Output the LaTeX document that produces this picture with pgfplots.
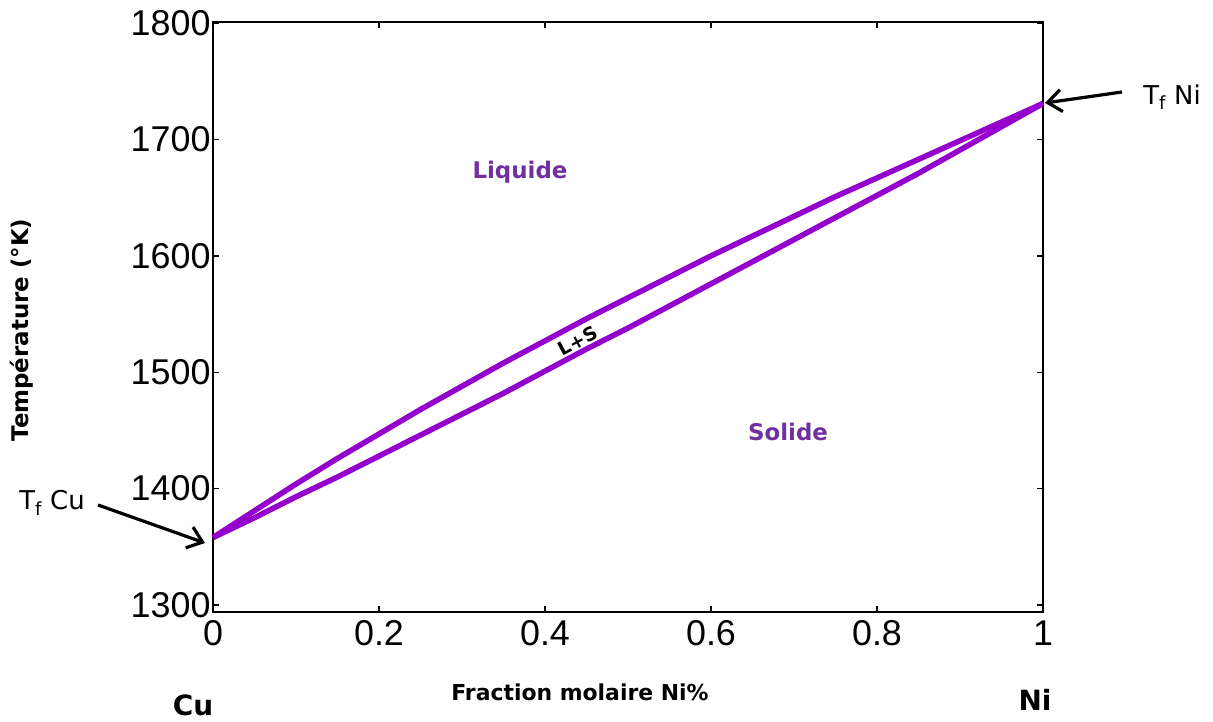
\documentclass[border=0pt]{standalone}
\usepackage{fontspec}
\setmainfont{Liberation Sans}
\newfontfamily\lab{DejaVu Sans}
\usepackage{pgfplots}
\pgfplotsset{compat=1.18}
\usetikzlibrary{arrows.meta}
\definecolor{curve}{RGB}{148,0,204}
\definecolor{phase}{RGB}{112,48,160}

% liquidus (upper curve) and solidus (lower curve), x = mole fraction of Ni
\pgfplotstableread{
x T
0.00 1358
0.05 1381
0.10 1404
0.15 1426
0.20 1447
0.25 1468
0.30 1488
0.35 1508
0.40 1527
0.45 1546
0.50 1564
0.55 1582
0.60 1600
0.65 1617
0.70 1634
0.75 1651
0.80 1667
0.85 1683
0.90 1699
0.95 1715
1.00 1731
}\liquidus
\pgfplotstableread{
x T
0.00 1358
0.05 1375
0.10 1393
0.15 1410
0.20 1428
0.25 1446
0.30 1464
0.35 1482
0.40 1501
0.45 1520
0.50 1538
0.55 1557
0.60 1576
0.65 1595
0.70 1614
0.75 1633
0.80 1652
0.85 1671
0.90 1691
0.95 1711
1.00 1731
}\solidus

\begin{document}
\begin{tikzpicture}[x=1bp,y=1bp]
\useasboundingbox (-213,-110) rectangle (1000,612);
\begin{axis}[
  at={(0,0)}, anchor=south west,
  scale only axis, width=830bp, height=590bp,
  xmin=0, xmax=1, ymin=1294, ymax=1801,
  xtick={0,0.2,0.4,0.6,0.8,1},
  ytick={1300,1400,1500,1600,1700,1800},
  xticklabels={0,0.2,0.4,0.6,0.8,1},
  /pgf/number format/1000 sep={},
  tick align=inside,
  major tick length=6bp,
  axis line style={line width=1.4bp},
  every tick/.style={black, line width=1.4bp},
  /pgf/number format/assume math mode=true,
  ticklabel style={font=\fontsize{36}{38}\selectfont},
  yticklabel style={xshift=1bp},
  xticklabel style={yshift=-5bp},
  clip=false,
]
\addplot[curve, line width=5.5bp, line join=round] table[x=x,y=T] {\liquidus};
\addplot[curve, line width=5.5bp, line join=round] table[x=x,y=T] {\solidus};
\end{axis}

% phase labels
\node[text=phase, font=\lab\bfseries\fontsize{23}{26}\selectfont] at (307,440) {Liquide};
\node[text=phase, font=\lab\bfseries\fontsize{23}{26}\selectfont] at (575,180) {Solide};
\node[rotate=28, inner sep=0pt, font=\lab\bfseries\fontsize{19}{21}\selectfont] at (365,271) {L+S};

% axis titles and end members
\node[rotate=90, font=\lab\bfseries\fontsize{23}{25}\selectfont] at (-191,282) {Température (°K)};
\node[font=\lab\bfseries\fontsize{22}{24}\selectfont] at (367,-80) {Fraction molaire Ni\%};
\node[font=\lab\bfseries\fontsize{28}{30}\selectfont] at (-20,-93) {Cu};
\node[font=\lab\bfseries\fontsize{28}{30}\selectfont] at (822,-88) {Ni};

% melting points of the pure metals
\node[font=\lab\fontsize{26}{28}\selectfont] at (-161,109) {T\textsubscript{f} Cu};
\draw[line width=3.2bp, -{Straight Barb[length=14bp, width=22bp]}] (-115,107) -- (-8,69);
\node[font=\lab\fontsize{26}{28}\selectfont] at (959,515) {T\textsubscript{f} Ni};
\draw[line width=3.2bp, -{Straight Barb[length=14bp, width=22bp]}] (909,520) -- (832,509);
\end{tikzpicture}
\end{document}
